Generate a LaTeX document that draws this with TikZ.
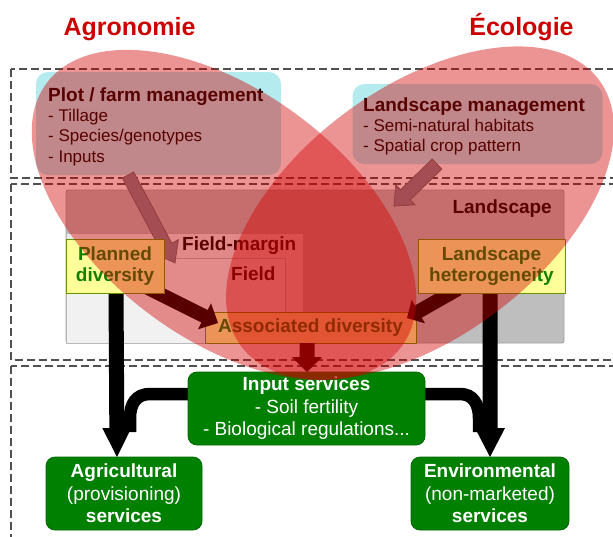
\documentclass[tikz,border=0pt]{standalone}
\usepackage{fontspec}
\setmainfont{Liberation Sans}
\usetikzlibrary{arrows.meta,calc}
\definecolor{ttl}{RGB}{204,0,0}
\definecolor{ovl}{RGB}{210,0,0}
\definecolor{cyanbx}{RGB}{180,235,238}
\definecolor{grn}{RGB}{0,128,0}
\definecolor{grnd}{RGB}{0,105,0}
\definecolor{yel}{RGB}{255,255,153}
\definecolor{ybord}{RGB}{100,150,0}
\definecolor{ytext}{RGB}{20,128,0}
\definecolor{landgray}{RGB}{190,190,190}
\definecolor{landbord}{RGB}{160,160,160}
\definecolor{fmgray}{RGB}{236,236,236}
\definecolor{fgray}{RGB}{241,241,241}
\definecolor{fbord}{RGB}{185,185,185}
\definecolor{mgmtarrow}{RGB}{132,134,142}
\definecolor{mgmtbord}{RGB}{100,100,105}
\definecolor{dashcol}{RGB}{80,80,80}
\newcommand\blockarrow[6]{%
  \coordinate (ba-b) at ($(#3)!#6!(#2)$);
  \path[#1] ($(#2)!#4!90:(#3)$) -- ($(ba-b)!#4!-90:(#2)$) -- ($(ba-b)!#5!-90:(#2)$) -- (#3) -- ($(ba-b)!#5!90:(#2)$) -- ($(ba-b)!#4!90:(#2)$) -- ($(#2)!#4!-90:(#3)$) -- cycle;}
\tikzset{
  dashbox/.style={draw=dashcol, line width=1.3pt, dash pattern=on 8pt off 4pt},
  cyanbox/.style={fill=cyanbx, draw=none, rounded corners=12pt, inner sep=0pt},
  mtitle/.style={anchor=base west, inner sep=0pt, font=\fontsize{19}{22}\selectfont\bfseries},
  mitem/.style={anchor=base west, inner sep=0pt, font=\fontsize{17}{20}\selectfont},
  zlabel/.style={inner sep=0pt, font=\fontsize{19}{22}\selectfont\bfseries},
  landbox/.style={fill=landgray, draw=landbord, line width=0.8pt, rounded corners=2pt, inner sep=0pt},
  fmbox/.style={fill=fmgray, draw=fbord, line width=0.8pt, inner sep=0pt},
  fbox/.style={fill=fgray, draw=fbord, line width=0.8pt, inner sep=0pt},
  ybox/.style={fill=yel, draw=ybord, line width=1pt, text=ytext, inner sep=0pt, align=center, font=\fontsize{19}{21}\selectfont\bfseries},
  greenbox/.style={fill=grn, draw=grnd, line width=0.8pt, rounded corners=9pt, text=white, align=center, inner sep=0pt, font=\fontsize{19}{22.5}\selectfont},
  mgmtarr/.style={fill=mgmtarrow, draw=mgmtbord, line width=0.7pt},
  blackarr/.style={fill=black},
  band/.style={draw=black, line width=12.5pt},
  overlay/.style={fill=ovl, fill opacity=0.42},
  title/.style={anchor=base, inner sep=0pt, text=ttl, font=\fontsize{25}{28}\selectfont\bfseries}
}
\begin{document}
\begin{tikzpicture}[x=1pt,y=-1pt]
\useasboundingbox (0,0) rectangle (613,536);
% dashed zones
\draw[dashbox] (11,69) rectangle (630,178);
\draw[dashbox] (11,184) rectangle (630,360);
\draw[dashbox] (11,366) rectangle (630,560);
% management boxes
\node[cyanbox, minimum width=245pt, minimum height=103pt] (plot) at (158.5,123.5) {};
\node[mtitle] (plott) at (48,101) {Plot / farm management};
\node[mitem] (plot1) at (48,121) {- Tillage};
\node[mitem] (plot2) at (48,141) {- Species/genotypes};
\node[mitem] (plot3) at (48,162) {- Inputs};
\node[cyanbox, minimum width=250pt, minimum height=80pt] (lman) at (477.5,124) {};
\node[mtitle] (lmant) at (363,111) {Landscape management};
\node[mitem] (lman1) at (363,131) {- Semi-natural habitats};
\node[mitem] (lman2) at (363,151) {- Spatial crop pattern};
% landscape / field-margin / field
\node[landbox, minimum width=498pt, minimum height=153pt] (land) at (315,266.5) {};
\node[fmbox, minimum width=237pt, minimum height=110pt] (fmargin) at (184.5,288) {};
\node[fbox, minimum width=219pt, minimum height=85pt] (field) at (175.5,300.5) {};
\node[zlabel, anchor=base east] (landl) at (552,213) {Landscape};
\node[zlabel, anchor=base west] (fmarginl) at (182,250) {Field-margin};
\node[zlabel, anchor=base west] (fieldl) at (231,280) {Field};
% management arrows
\coordinate (g1s) at (128,175);
\coordinate (g1t) at (175,263);
\coordinate (g2s) at (437,164);
\coordinate (g2t) at (394,206);
\blockarrow{mgmtarr}{g1s}{g1t}{6.5pt}{14pt}{19pt}
\blockarrow{mgmtarr}{g2s}{g2t}{7pt}{14pt}{16pt}
% associated diversity
\node[ybox, minimum width=211pt, minimum height=31pt] (assoc) at (310.5,327.5) {Associated diversity};
% black bands and arrows
\draw[band] (190,394) -- (150,394) .. controls (136,394) and (130,404) .. (130,418) -- (130,432);
\draw[band] (423,394) -- (460,394) .. controls (473,394) and (479,404) .. (479,418) -- (479,432);
\coordinate (v1s) at (116,290);
\coordinate (v1t) at (117,457);
\coordinate (v2s) at (490,290);
\coordinate (v2t) at (490,457);
\blockarrow{blackarr}{v1s}{v1t}{7.5pt}{14.5pt}{29pt}
\blockarrow{blackarr}{v2s}{v2t}{7.5pt}{15pt}{29pt}
\coordinate (d1s) at (148,288);
\coordinate (d1t) at (218,323);
\coordinate (d2s) at (458,289);
\coordinate (d2t) at (407,318);
\coordinate (d3s) at (307,343);
\coordinate (d3t) at (307,372);
\blockarrow{blackarr}{d1s}{d1t}{7pt}{14.5pt}{15pt}
\blockarrow{blackarr}{d2s}{d2t}{7pt}{13.5pt}{13pt}
\blockarrow{blackarr}{d3s}{d3t}{7.5pt}{15pt}{15pt}
% diversity boxes
\node[ybox, minimum width=98pt, minimum height=54pt] (planned) at (115,266) {Planned\\diversity};
\node[ybox, minimum width=147pt, minimum height=54pt] (lhet) at (491.5,266) {Landscape\\heterogeneity};
% services
\node[greenbox, minimum width=237pt, minimum height=73pt] (input) at (306.5,408.5) {{\bfseries Input services}\\- Soil fertility\\- Biological regulations...};
\node[greenbox, minimum width=156pt, minimum height=73pt] (agri) at (124,493.5) {{\bfseries Agricultural}\\(provisioning)\\{\bfseries services}};
\node[greenbox, minimum width=158pt, minimum height=73pt] (envi) at (490,493.5) {{\bfseries Environmental}\\(non-marketed)\\{\bfseries services}};
% discipline overlays
\fill[overlay] (224,215) circle[x radius=221pt, y radius=124pt, rotate=-36.6];
\fill[overlay] (420,213) circle[x radius=223pt, y radius=125pt, rotate=36.6];
% titles
\node[title] (agro) at (129.5,35) {Agronomie};
\node[title] (eco) at (521.5,35) {Écologie};
\end{tikzpicture}
\end{document}
